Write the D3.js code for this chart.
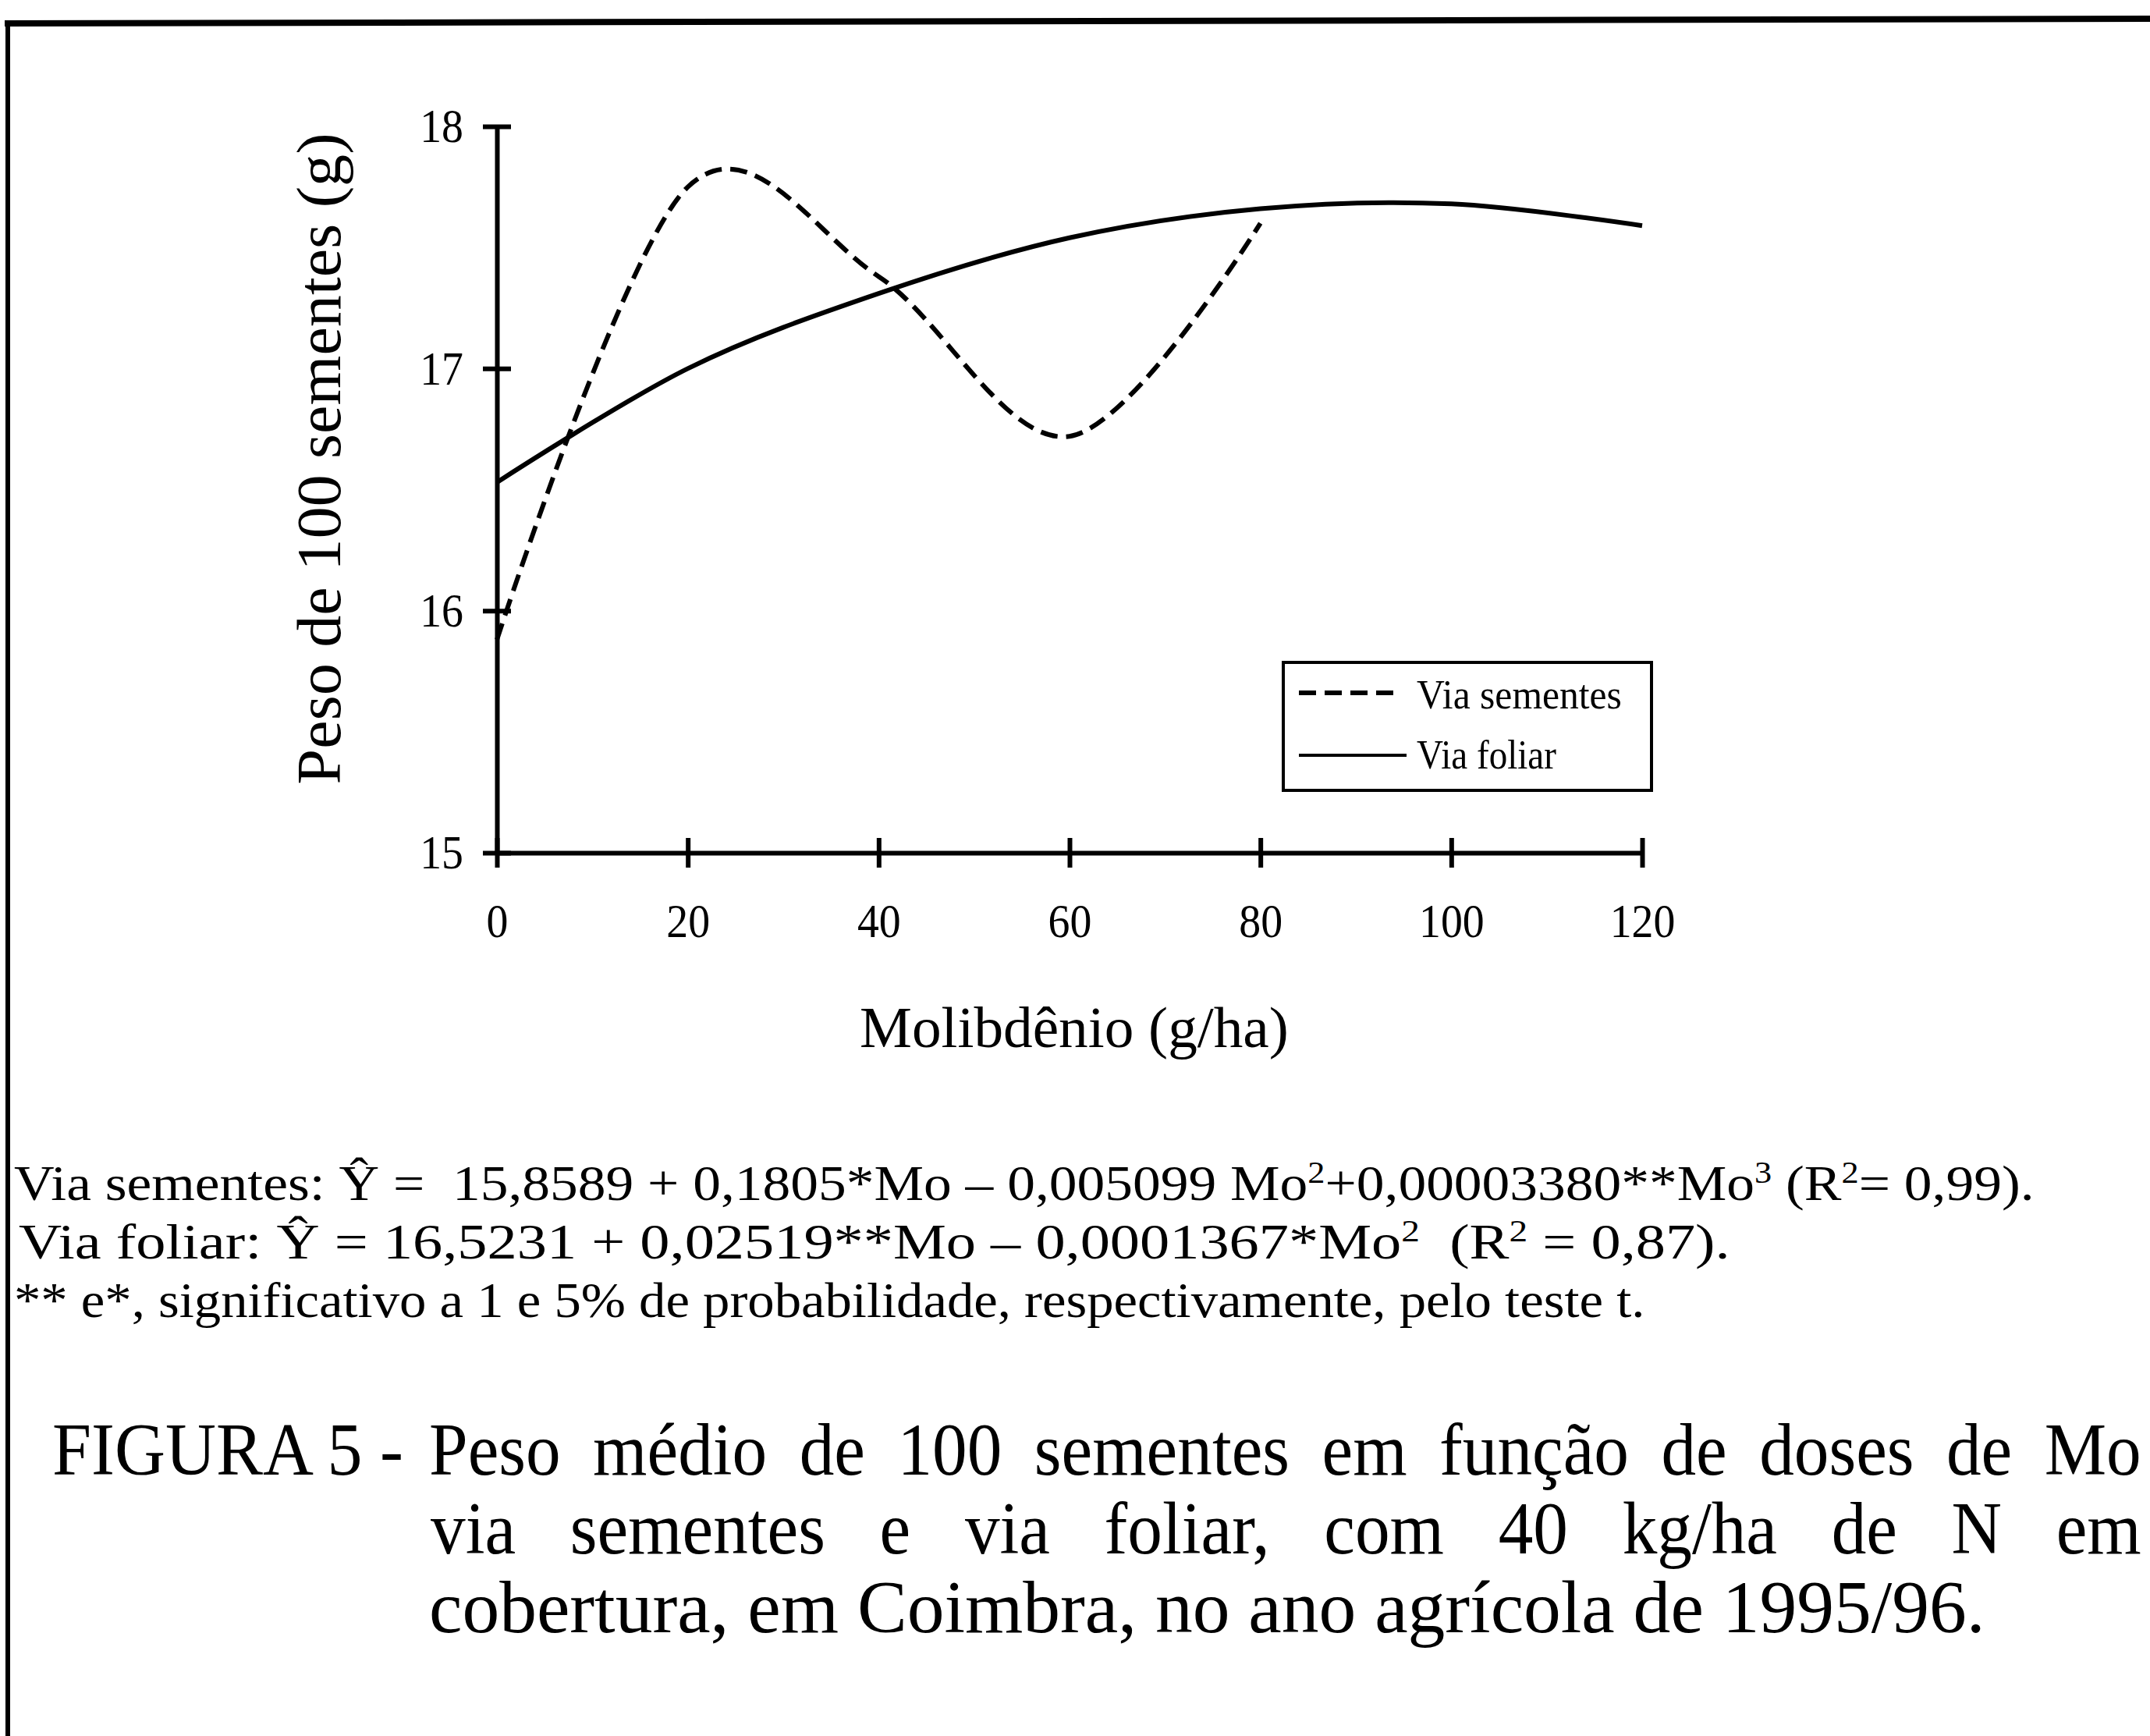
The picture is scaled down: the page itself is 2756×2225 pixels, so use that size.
<!DOCTYPE html>
<html>
<head>
<meta charset="utf-8">
<script src="https://cdn.jsdelivr.net/npm/d3@7/dist/d3.min.js"></script>
<style>
  html, body { margin: 0; padding: 0; background: #fff; }
  svg { display: block; }
  text { font-family: "Liberation Serif", "Times New Roman", serif; fill: #000; }
</style>
</head>
<body>
<script>
// ---- data ----
const xTicks = [0, 20, 40, 60, 80, 100, 120];
const yTicks = [15, 16, 17, 18];
const doseSementes = [0, 20, 40, 60, 80];
const pesoSementes = [15.88, 17.75, 17.38, 16.72, 17.60];
const doseFoliar = [0, 20, 40, 60, 80, 100, 120];
const pesoFoliar = [16.53, 17.00, 17.31, 17.54, 17.66, 17.68, 17.59];
const seriesNames = ["Via sementes", "Via foliar"];
const xTitle = "Molibdênio (g/ha)";
const yTitle = "Peso de 100 sementes (g)";

const W = 2756, H = 2225;
const svg = d3.select("body").append("svg").attr("width", W).attr("height", H);
svg.append("rect").attr("width", W).attr("height", H).attr("fill", "#fff");

// page frame
svg.append("line").attr("x1", 6).attr("y1", 30).attr("x2", W).attr("y2", 24)
  .attr("stroke", "#000").attr("stroke-width", 8);
svg.append("line").attr("x1", 10).attr("y1", 26).attr("x2", 10).attr("y2", H)
  .attr("stroke", "#000").attr("stroke-width", 6);

const x = d3.scaleLinear().domain([0, 120]).range([637, 2105]);
const y = d3.scaleLinear().domain([15, 18]).range([1093, 162]);

// helper: fit text horizontally to a width
function fit(t, x0, baseline, target) {
  const w = t.node().getComputedTextLength();
  const sx = target / w;
  t.attr("x", 0).attr("y", 0)
   .attr("transform", `translate(${x0},${baseline}) scale(${sx},1)`);
}

// axes
const gx = svg.append("g").attr("transform", `translate(0,${y(15)})`)
  .call(d3.axisBottom(x).tickValues(xTicks).tickSizeInner(19).tickSizeOuter(0).tickPadding(45));
const gy = svg.append("g").attr("transform", `translate(${x(0)},0)`)
  .call(d3.axisLeft(y).tickValues(yTicks).tickSizeInner(18).tickSizeOuter(0).tickPadding(25)
        .tickFormat(d3.format("d")));
[gx, gy].forEach(g => {
  g.select(".domain").attr("stroke", "#000").attr("stroke-width", 6);
  g.selectAll(".tick line").attr("stroke", "#000").attr("stroke-width", 6);
  g.selectAll(".tick text").attr("font-size", 62)
    .attr("font-family", '"Liberation Serif", "Times New Roman", serif').attr("fill", "#000");
});
gx.selectAll(".tick line").attr("y1", -19);
gy.selectAll(".tick line").attr("x1", 18);
gx.selectAll(".tick text").attr("transform", "scale(0.9,1)");
gy.selectAll(".tick text").attr("x", -43 / 0.9).attr("transform", "scale(0.9,1)");

// curves
const lineS = d3.line().x((d, i) => x(doseSementes[i])).y(d => y(d)).curve(d3.curveCardinal.tension(0));
const lineF = d3.line().x((d, i) => x(doseFoliar[i])).y(d => y(d)).curve(d3.curveCardinal.tension(0));
svg.append("path").attr("d", lineF(pesoFoliar)).attr("fill", "none")
  .attr("stroke", "#000").attr("stroke-width", 6);
svg.append("path").attr("d", lineS(pesoSementes)).attr("fill", "none")
  .attr("stroke", "#000").attr("stroke-width", 6).attr("stroke-dasharray", "22,11");

// legend
svg.append("rect").attr("x", 1645).attr("y", 849).attr("width", 472).attr("height", 164)
  .attr("fill", "#fff").attr("stroke", "#000").attr("stroke-width", 4);
svg.append("line").attr("x1", 1665).attr("x2", 1795).attr("y1", 888).attr("y2", 888)
  .attr("stroke", "#000").attr("stroke-width", 6).attr("stroke-dasharray", "22,11");
svg.append("line").attr("x1", 1665).attr("x2", 1803).attr("y1", 968).attr("y2", 968)
  .attr("stroke", "#000").attr("stroke-width", 4);
fit(svg.append("text").attr("font-size", 53).text(seriesNames[0]), 1816, 908, 263);
fit(svg.append("text").attr("font-size", 53).text(seriesNames[1]), 1816, 985, 179);

// axis titles
fit(svg.append("text").attr("font-size", 75).text(xTitle), 1102, 1342, 550);
{
  const t = svg.append("text").attr("font-size", 80).attr("text-anchor", "middle").text(yTitle);
  const w = t.node().getComputedTextLength();
  t.attr("transform", `translate(436,588) rotate(-90) scale(${835 / w},1)`);
}

// equations
function eq(parts, size) {
  const t = svg.append("text").attr("font-size", size).style("white-space", "pre");
  parts.forEach(p => {
    if (typeof p === "string") t.append("tspan").text(p);
    else t.append("tspan").attr("baseline-shift", "super").attr("font-size", size * 0.62).text(p.sup);
  });
  return t;
}
fit(eq(["Via sementes: Ŷ =  15,8589 + 0,1805*Mo – 0,005099 Mo", {sup: "2"}, "+0,00003380**Mo", {sup: "3"},
        " (R", {sup: "2"}, "= 0,99)."], 64), 18, 1538, 2590);
fit(eq(["Via foliar: Ŷ = 16,5231 + 0,02519**Mo – 0,0001367*Mo", {sup: "2"}, "  (R", {sup: "2"}, " = 0,87)."], 64),
    24, 1613, 2194);
fit(eq(["** e*, significativo a 1 e 5% de probabilidade, respectivamente, pelo teste t."], 64), 18, 1688, 2091);

// caption
function justified(str, x0, x1, baseline, size, sx) {
  const t = svg.append("text").attr("font-size", size).text(str);
  const w = t.node().getComputedTextLength();
  const n = str.split(" ").length - 1;
  const ws = ((x1 - x0) / sx - w) / n;
  t.style("word-spacing", ws + "px");
  fit(t, x0, baseline, x1 - x0);
}
fit(svg.append("text").attr("font-size", 96).text("FIGURA 5 -"), 67, 1890, 450);
justified("Peso médio de 100 sementes em função de doses de Mo", 550, 2745, 1890, 96, 0.93);
justified("via sementes e via foliar, com 40 kg/ha de N em", 552, 2745, 1991, 96, 0.93);
fit(svg.append("text").attr("font-size", 96).text("cobertura, em Coimbra, no ano agrícola de 1995/96."), 550, 2092, 1995);
</script>
</body>
</html>
